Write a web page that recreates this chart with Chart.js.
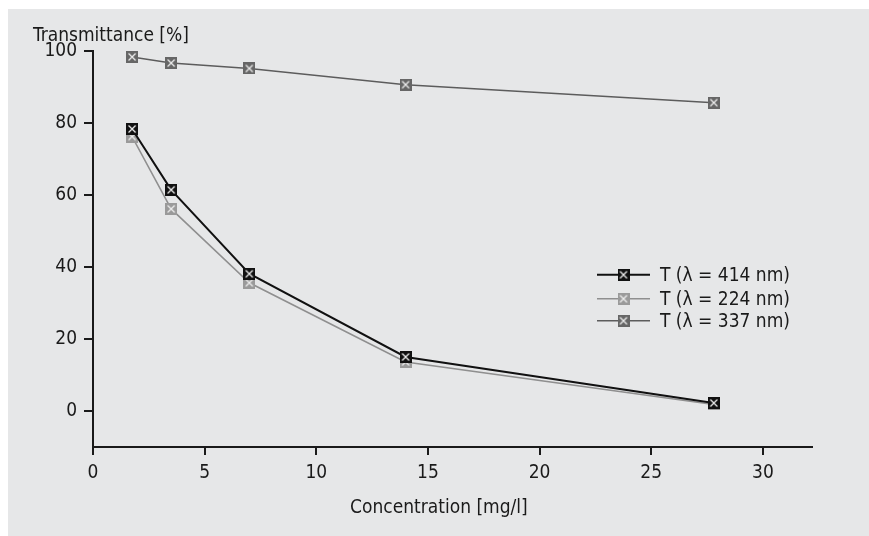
<!DOCTYPE html>
<html>
<head>
<meta charset="utf-8">
<script src="https://cdn.jsdelivr.net/npm/chart.js@4/dist/chart.umd.min.js"></script>
<style>
  body { margin: 0; background: #fff; }
  #panel { position: absolute; left: 8px; top: 9px; width: 861px; height: 527px; background: #e6e7e8; }
</style>
</head>
<body>
<div id="panel"><canvas id="transCanvas" width="861" height="527"></canvas></div>
<script>
var concentration = [1.75, 3.5, 7, 14, 27.8];
var t414 = [78.3, 61.4, 38.1, 15.0, 2.2];
var t224 = [76.2, 56.1, 35.6, 13.6, 1.8];
var t337 = [98.3, 96.6, 95.1, 90.6, 85.6];
var seriesNames = ['T (\u03bb = 414 nm)', 'T (\u03bb = 224 nm)', 'T (\u03bb = 337 nm)'];
var xTicks = [0, 5, 10, 15, 20, 25, 30];
var yTicks = [0, 20, 40, 60, 80, 100];

var fontFamily = "'Liberation Sans Narrow', 'DejaVu Sans Condensed', 'Liberation Sans', sans-serif";
var ink = '#1a1a1a';

// little square marker with an x inside
function boxMarker(fill) {
  var c = document.createElement('canvas');
  c.width = 12; c.height = 12;
  var g = c.getContext('2d');
  g.fillStyle = fill;
  g.fillRect(0, 0, 12, 12);
  g.strokeStyle = '#eeeeee';
  g.lineWidth = 1.3;
  g.beginPath();
  g.moveTo(2.5, 2.5); g.lineTo(9.5, 9.5);
  g.moveTo(9.5, 2.5); g.lineTo(2.5, 9.5);
  g.stroke();
  return c;
}

function toPoints(vals) {
  return vals.map(function (v, i) { return { x: concentration[i], y: v }; });
}

function makeSet(label, vals, color, width, markerColor) {
  return {
    label: label,
    data: toPoints(vals),
    borderColor: color,
    backgroundColor: color,
    borderWidth: width,
    pointStyle: boxMarker(markerColor),
    pointRadius: 6,
    tension: 0
  };
}

// legend drawn inside the plot area
var insideLegend = {
  id: 'insideLegend',
  afterDatasetsDraw: function (chart) {
    var ctx = chart.ctx;
    var area = chart.chartArea;
    var x0 = area.right - 215;
    var y0 = area.top + 224;
    ctx.save();
    ctx.font = '19px ' + fontFamily;
    ctx.textBaseline = 'middle';
    chart.data.datasets.forEach(function (ds, i) {
      var y = y0 + [0, 24, 46][i];
      ctx.strokeStyle = ds.borderColor;
      ctx.lineWidth = ds.borderWidth;
      ctx.beginPath();
      ctx.moveTo(x0, y);
      ctx.lineTo(x0 + 53, y);
      ctx.stroke();
      ctx.drawImage(ds.pointStyle, x0 + 20.5, y - 6);
      ctx.fillStyle = ink;
      ctx.fillText(ds.label, x0 + 63, y + 1);
    });
    ctx.restore();
  }
};

var config = {
  type: 'line',
  data: {
    datasets: [
      makeSet(seriesNames[0], t414, '#111111', 2, '#111111'),
      makeSet(seriesNames[1], t224, '#8f8f8f', 1.5, '#9a9a9a'),
      makeSet(seriesNames[2], t337, '#5c5c5c', 1.5, '#666666')
    ]
  },
  options: {
    responsive: false,
    animation: false,
    layout: { padding: { left: 25, right: 57, top: 0, bottom: 0 } },
    plugins: {
      legend: { display: false },
      tooltip: { enabled: false },
      title: {
        display: true,
        text: 'Transmittance [%]',
        align: 'start',
        color: ink,
        font: { family: fontFamily, size: 19, weight: 'normal' },
        padding: { top: 16, bottom: 3 }
      }
    },
    scales: {
      x: {
        type: 'linear',
        min: 0,
        max: 32.2,
        afterBuildTicks: function (scale) {
          scale.ticks = xTicks.map(function (v) { return { value: v }; });
        },
        afterFit: function (scale) { scale.height = 89; },
        ticks: { color: ink, padding: 7, font: { family: fontFamily, size: 19 } },
        grid: { drawOnChartArea: false, drawTicks: true, tickLength: 8, color: ink, lineWidth: 2 },
        border: { display: true, color: ink, width: 2 },
        title: {
          display: true,
          // trailing spaces nudge the centred title a little to the left
          text: 'Concentration [mg/l]     ',
          color: ink,
          font: { family: fontFamily, size: 19 },
          padding: { top: 4, bottom: 17 }
        }
      },
      y: {
        min: -10,
        max: 100,
        afterBuildTicks: function (scale) {
          scale.ticks = yTicks.map(function (v) { return { value: v }; });
        },
        afterFit: function (scale) { scale.width = 60; },
        ticks: { color: ink, padding: 7, font: { family: fontFamily, size: 19 } },
        grid: { drawOnChartArea: false, drawTicks: true, tickLength: 9, color: ink, lineWidth: 2 },
        border: { display: true, color: ink, width: 2 }
      }
    }
  },
  plugins: [insideLegend]
};

var ctx = document.getElementById('transCanvas');
var transChart = new Chart(ctx, config);
</script>
</body>
</html>
